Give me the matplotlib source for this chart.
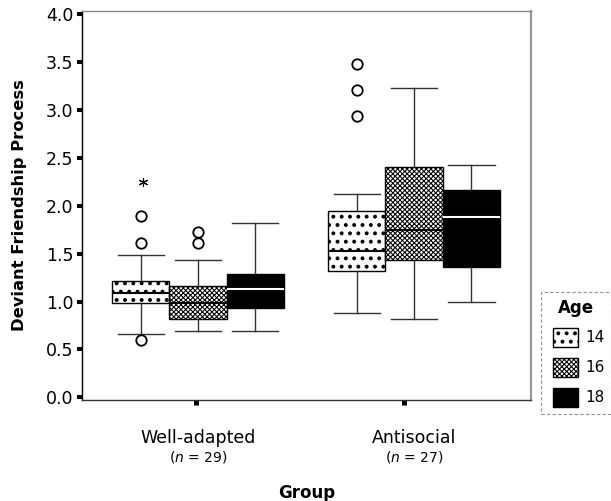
import matplotlib
matplotlib.use('Agg')
import matplotlib as mpl
import matplotlib.pyplot as plt
from matplotlib.patches import Patch
from matplotlib.legend_handler import HandlerPatch
from matplotlib.transforms import blended_transform_factory

plt.rcParams['font.family'] = ['DejaVu Sans']
plt.rcParams['mathtext.fontset'] = 'custom'
plt.rcParams['mathtext.rm'] = 'DejaVu Sans'
plt.rcParams['mathtext.it'] = 'DejaVu Sans:italic'

# ---------------- data ----------------
groups = ['Well-adapted', 'Antisocial']
group_n = [29, 27]
ages = ['14', '16', '18']

# indexed [group][age]
q1 = [[0.98, 0.82, 0.93], [1.32, 1.43, 1.36]]
med = [[1.09, 0.98, 1.13], [1.53, 1.75, 1.885]]
q3 = [[1.21, 1.16, 1.29], [1.94, 2.40, 2.16]]
whislo = [[0.66, 0.69, 0.69], [0.88, 0.82, 1.00]]
whishi = [[1.49, 1.43, 1.82], [2.12, 3.23, 2.42]]
outliers = [[[0.60, 1.61, 1.89], [1.61, 1.73], []],
            [[2.94, 3.21, 3.48], [], []]]
extremes = [[[2.25], [], []],
            [[], [], []]]

y_ticks = [0.0, 0.5, 1.0, 1.5, 2.0, 2.5, 3.0, 3.5, 4.0]

# ---------------- styles ----------------
hatches = ['..', 'xxxxxxx', None]
hatch_lw = [1.6, 0.75, 1.0]
faces = ['white', 'white', 'black']
median_colors = ['black', 'black', 'white']
offsets = [-0.265, 0.0, 0.265]
box_w = 0.265
cap_w = 0.215


def with_hatch_lw(patch, lw):
    """Draw this patch with its own hatch line width."""
    orig_draw = patch.draw

    def draw(renderer):
        with mpl.rc_context({'hatch.linewidth': lw}):
            orig_draw(renderer)
    patch.draw = draw
    if hasattr(patch, 'set_hatch_linewidth'):
        try:
            patch.set_hatch_linewidth(lw)
        except Exception:
            pass
    return patch


class HatchHandler(HandlerPatch):
    def __init__(self, lw, **kw):
        super().__init__(**kw)
        self.lw = lw

    def create_artists(self, legend, orig_handle, xdescent, ydescent,
                       width, height, fontsize, trans):
        arts = super().create_artists(legend, orig_handle, xdescent, ydescent,
                                      width, height, fontsize, trans)
        for p in arts:
            if orig_handle.get_hatch():
                p.set_hatch(orig_handle.get_hatch())
            with_hatch_lw(p, self.lw)
        return arts


fig = plt.figure(figsize=(6.11, 5.01), dpi=100)
ax = fig.add_axes([0.1337, 0.2016, 0.7349, 0.7764])

for g in range(len(groups)):
    for a in range(len(ages)):
        st = dict(med=med[g][a], q1=q1[g][a], q3=q3[g][a],
                  whislo=whislo[g][a], whishi=whishi[g][a],
                  fliers=outliers[g][a])
        pos = g + 1 + offsets[a]
        res = ax.bxp([st], positions=[pos], widths=[box_w], capwidths=[cap_w],
                     patch_artist=True, showfliers=True,
                     boxprops=dict(facecolor=faces[a], edgecolor='black', linewidth=1.0),
                     whiskerprops=dict(color='#333333', linewidth=1.0),
                     capprops=dict(color='#333333', linewidth=1.0),
                     medianprops=dict(color=median_colors[a], linewidth=1.5),
                     flierprops=dict(marker='o', markersize=7.5, markerfacecolor='white',
                                     markeredgecolor='black', markeredgewidth=1.3,
                                     linestyle='none'))
        box = res['boxes'][0]
        if hatches[a]:
            box.set_hatch(hatches[a])
        with_hatch_lw(box, hatch_lw[a])
        if extremes[g][a]:
            ax.plot([pos + 0.012] * len(extremes[g][a]), extremes[g][a],
                    linestyle='none', marker=(6, 2, 0), markersize=6.5,
                    color='black', markeredgewidth=0.8)

ax.set_xlim(0.4616, 2.540)
ax.set_ylim(-0.028, 4.032)
ax.set_yticks(y_ticks)
ax.set_yticklabels([f'{v:.1f}' for v in y_ticks])
ax.tick_params(axis='y', direction='out', length=3.6, width=2.9, pad=2.5,
               labelsize=12.5, colors='black')

ax.set_xticks([1, 2])
ax.set_xticklabels([])
ax.tick_params(axis='x', which='major', length=0)
ax.set_xticks([0.99, 1.955], minor=True)
ax.tick_params(axis='x', which='minor', direction='out', length=3.4, width=3.6, pad=2)

ax.spines['left'].set_color('black')
ax.spines['left'].set_linewidth(1.0)
ax.spines['bottom'].set_color('#333333')
ax.spines['bottom'].set_linewidth(1.0)
ax.spines['top'].set_color('#888888')
ax.spines['top'].set_linewidth(1.0)
ax.spines['right'].set_color('#999999')
ax.spines['right'].set_linewidth(1.6)

trans = blended_transform_factory(ax.transData, ax.transAxes)
for g, name in enumerate(groups):
    ax.text(g + 1, -0.1105, name, transform=trans, ha='center', va='baseline',
            fontsize=12.5)
    ax.text(g + 1, -0.159, r'($\it{n}$ = %d)' % group_n[g], transform=trans,
            ha='center', va='baseline', fontsize=10)

ax.text(0.5, -0.252, 'Group', transform=ax.transAxes, ha='center', va='baseline',
        fontsize=12, fontweight='bold')
ax.text(-0.1385, 0.5, 'Deviant Friendship Process', transform=ax.transAxes,
        ha='center', va='center', rotation=90, fontsize=11.8, fontweight='bold')

handles = [Patch(facecolor=faces[a], edgecolor='black', hatch=hatches[a])
           for a in range(len(ages))]
hmap = {handles[a]: HatchHandler(hatch_lw[a], xpad=0.355) for a in range(len(ages))}

leg = fig.legend(handles, ages, title='Age', loc='upper left', handler_map=hmap,
                 bbox_to_anchor=(0.885, 0.4178), borderaxespad=0, frameon=True,
                 fontsize=11, title_fontproperties={'weight': 'bold', 'size': 12},
                 handlelength=2.0, handleheight=1.54, labelspacing=0.72,
                 handletextpad=0.45, borderpad=0.45, fancybox=False,
                 edgecolor='#777777')
leg.get_frame().set_linestyle((0, (3, 2)))
leg.get_frame().set_linewidth(0.8)

fig.savefig('out.png', dpi=100)
